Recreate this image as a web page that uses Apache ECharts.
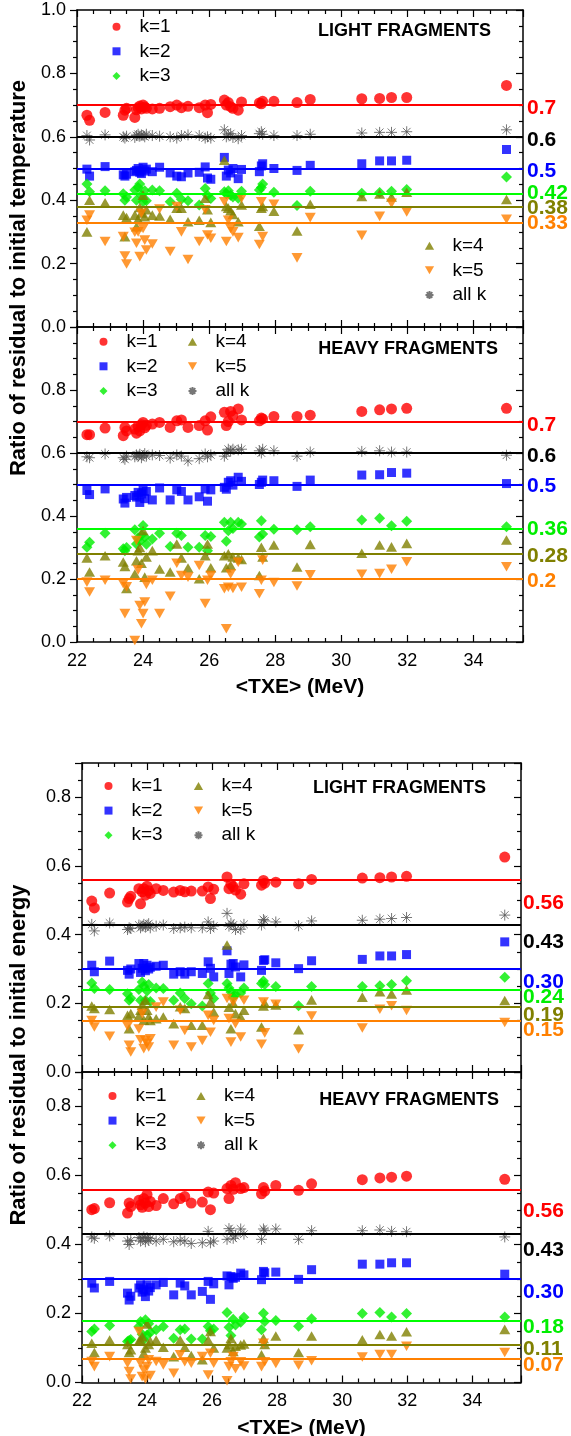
<!DOCTYPE html>
<html><head><meta charset="utf-8">
<script src="https://cdn.jsdelivr.net/npm/echarts/dist/echarts.min.js"></script>
<style>html,body{margin:0;padding:0;background:#fff}#c{width:571px;height:1436px}</style>
</head><body><div id="c"></div>
<script>
// ---- data ----
const TXE = [22.30,22.38,22.85,23.40,23.45,23.50,23.75,23.80,23.85,23.90,23.95,24.00,24.05,24.10,24.28,24.50,24.82,25.02,25.16,25.36,25.70,25.88,25.95,26.05,26.46,26.52,26.58,26.65,26.72,26.88,26.98,27.52,27.58,27.62,27.96,28.66,29.06,30.62,31.16,31.52,31.98,35.00];
const X_TICK_LABELS = ['22','24','26','28','30','32','34'];
const SERIES_NAMES = ['k=1','k=2','k=3','k=4','k=5','all k'];

// Light fragments, temperature
const LT_K1 = [0.668,0.652,0.677,0.668,0.684,0.690,0.661,0.685,0.692,0.697,0.688,0.700,0.694,0.690,0.688,0.690,0.695,0.700,0.692,0.696,0.692,0.700,0.676,0.702,0.716,0.700,0.708,0.695,0.690,0.684,0.710,0.707,0.704,0.712,0.712,0.708,0.718,0.720,0.721,0.724,0.724,0.762];
const LT_K2 = [0.498,0.476,0.506,0.480,0.476,0.482,0.490,0.494,0.500,0.488,0.484,0.504,0.492,0.498,0.490,0.504,0.486,0.476,0.474,0.486,0.488,0.505,0.470,0.466,0.535,0.476,0.495,0.486,0.500,0.468,0.497,0.490,0.508,0.515,0.500,0.494,0.510,0.515,0.524,0.524,0.526,0.560];
const LT_K3 = [0.451,0.427,0.430,0.420,0.400,0.410,0.432,0.400,0.440,0.451,0.416,0.395,0.430,0.398,0.432,0.430,0.395,0.422,0.403,0.398,0.385,0.437,0.416,0.405,0.427,0.420,0.430,0.416,0.410,0.406,0.428,0.432,0.440,0.451,0.425,0.383,0.428,0.422,0.424,0.428,0.434,0.473];
const LT_K4 = [0.300,0.400,0.392,0.353,0.285,0.345,0.353,0.316,0.340,0.377,0.360,0.416,0.348,0.370,0.353,0.350,0.340,0.375,0.375,0.332,0.337,0.406,0.370,0.330,0.526,0.380,0.375,0.367,0.355,0.332,0.385,0.318,0.375,0.380,0.365,0.303,0.387,0.412,0.420,0.410,0.425,0.402];
const LT_K5 = [0.337,0.353,0.270,0.285,0.224,0.199,0.299,0.264,0.300,0.222,0.359,0.311,0.274,0.243,0.262,0.372,0.238,0.380,0.300,0.213,0.270,0.370,0.290,0.280,0.395,0.270,0.337,0.311,0.300,0.282,0.406,0.260,0.395,0.285,0.387,0.218,0.345,0.289,0.349,0.390,0.363,0.340];
const LT_ALL = [0.604,0.590,0.606,0.600,0.596,0.602,0.598,0.604,0.608,0.602,0.606,0.604,0.600,0.608,0.604,0.602,0.600,0.596,0.604,0.606,0.604,0.596,0.600,0.596,0.622,0.600,0.606,0.610,0.598,0.594,0.604,0.610,0.616,0.608,0.604,0.604,0.608,0.612,0.614,0.614,0.616,0.622];
const LT_MEANS = [0.7,0.5,0.42,0.38,0.33,0.6];
const LT_MEAN_TEXT = ['0.7','0.5','0.42','0.38','0.33','0.6'];

// Heavy fragments, temperature
const HT_K1 = [0.658,0.658,0.679,0.655,0.681,0.670,0.676,0.663,0.685,0.670,0.690,0.697,0.680,0.688,0.692,0.697,0.681,0.702,0.705,0.681,0.687,0.702,0.673,0.715,0.729,0.687,0.700,0.732,0.718,0.740,0.705,0.702,0.711,0.708,0.716,0.716,0.720,0.732,0.737,0.740,0.742,0.742];
const HT_K2 = [0.481,0.468,0.486,0.454,0.441,0.459,0.465,0.460,0.475,0.443,0.470,0.481,0.455,0.478,0.451,0.489,0.451,0.483,0.478,0.451,0.461,0.486,0.447,0.483,0.491,0.485,0.507,0.512,0.498,0.523,0.510,0.500,0.507,0.514,0.512,0.494,0.514,0.530,0.531,0.538,0.536,0.503];
const HT_K3 = [0.301,0.317,0.345,0.296,0.290,0.300,0.356,0.311,0.330,0.320,0.340,0.370,0.333,0.310,0.327,0.345,0.303,0.345,0.338,0.301,0.301,0.338,0.290,0.335,0.380,0.320,0.353,0.380,0.360,0.380,0.375,0.333,0.385,0.343,0.358,0.356,0.366,0.387,0.393,0.369,0.383,0.366];
const HT_K4 = [0.267,0.222,0.274,0.254,0.240,0.170,0.216,0.258,0.290,0.300,0.250,0.354,0.206,0.270,0.290,0.232,0.222,0.311,0.267,0.235,0.201,0.274,0.311,0.236,0.274,0.236,0.280,0.243,0.270,0.267,0.262,0.211,0.301,0.270,0.308,0.238,0.310,0.282,0.308,0.302,0.313,0.324];
const HT_K5 = [0.190,0.159,0.196,0.185,0.090,0.175,0.005,0.322,0.229,0.116,0.058,0.090,0.127,0.183,0.196,0.090,0.145,0.250,0.211,0.206,0.243,0.122,0.196,0.211,0.169,0.042,0.174,0.216,0.170,0.253,0.174,0.153,0.196,0.260,0.189,0.178,0.213,0.215,0.217,0.231,0.255,0.239];
const HT_ALL = [0.588,0.585,0.597,0.585,0.580,0.590,0.588,0.594,0.590,0.596,0.585,0.592,0.598,0.590,0.594,0.592,0.584,0.594,0.590,0.575,0.582,0.597,0.588,0.594,0.590,0.600,0.612,0.606,0.612,0.610,0.612,0.607,0.600,0.612,0.607,0.590,0.603,0.605,0.607,0.603,0.603,0.593];
const HT_MEANS = [0.7,0.5,0.36,0.28,0.2,0.6];
const HT_MEAN_TEXT = ['0.7','0.5','0.36','0.28','0.2','0.6'];

// Light fragments, energy
const LE_K1 = [0.498,0.478,0.521,0.495,0.505,0.512,0.534,0.490,0.525,0.534,0.515,0.541,0.528,0.520,0.534,0.529,0.524,0.529,0.525,0.527,0.527,0.539,0.505,0.532,0.568,0.534,0.547,0.540,0.530,0.518,0.548,0.544,0.558,0.550,0.553,0.548,0.561,0.565,0.566,0.568,0.570,0.626];
const LE_K2 = [0.311,0.292,0.323,0.296,0.285,0.300,0.316,0.290,0.302,0.316,0.295,0.311,0.300,0.305,0.308,0.311,0.285,0.292,0.285,0.292,0.287,0.321,0.302,0.277,0.353,0.287,0.314,0.316,0.306,0.277,0.312,0.296,0.325,0.327,0.318,0.301,0.324,0.328,0.338,0.338,0.342,0.379];
const LE_K3 = [0.259,0.243,0.240,0.228,0.209,0.215,0.240,0.209,0.262,0.250,0.209,0.236,0.255,0.205,0.245,0.243,0.209,0.230,0.214,0.199,0.192,0.258,0.230,0.214,0.258,0.245,0.233,0.219,0.225,0.230,0.245,0.258,0.265,0.255,0.249,0.193,0.249,0.249,0.251,0.255,0.266,0.276];
const LE_K4 = [0.192,0.185,0.182,0.165,0.126,0.170,0.163,0.180,0.195,0.151,0.209,0.180,0.160,0.150,0.155,0.160,0.141,0.190,0.185,0.136,0.136,0.226,0.204,0.175,0.370,0.189,0.126,0.200,0.170,0.160,0.180,0.131,0.192,0.200,0.195,0.123,0.210,0.218,0.234,0.227,0.239,0.208];
const LE_K5 = [0.150,0.131,0.104,0.133,0.078,0.058,0.125,0.094,0.170,0.068,0.092,0.084,0.073,0.097,0.189,0.204,0.078,0.180,0.121,0.073,0.092,0.165,0.116,0.150,0.214,0.156,0.087,0.204,0.141,0.102,0.209,0.081,0.204,0.114,0.197,0.067,0.163,0.128,0.183,0.193,0.179,0.144];
const LE_ALL = [0.430,0.411,0.434,0.415,0.420,0.418,0.428,0.420,0.425,0.430,0.422,0.428,0.432,0.420,0.425,0.428,0.418,0.420,0.422,0.420,0.420,0.437,0.418,0.425,0.462,0.425,0.433,0.428,0.415,0.416,0.430,0.428,0.444,0.440,0.437,0.426,0.440,0.442,0.445,0.447,0.450,0.457];
const LE_MEANS = [0.56,0.30,0.24,0.19,0.15,0.43];
const LE_MEAN_TEXT = ['0.56','0.30','0.24','0.19','0.15','0.43'];

// Heavy fragments, energy
const HE_K1 = [0.501,0.504,0.521,0.491,0.520,0.510,0.528,0.515,0.508,0.533,0.520,0.545,0.510,0.525,0.513,0.533,0.518,0.533,0.539,0.520,0.523,0.552,0.501,0.549,0.562,0.533,0.571,0.560,0.579,0.562,0.565,0.547,0.565,0.555,0.571,0.557,0.576,0.588,0.593,0.595,0.598,0.589];
const HE_K2 = [0.288,0.274,0.293,0.259,0.239,0.250,0.274,0.283,0.262,0.269,0.249,0.283,0.265,0.275,0.283,0.290,0.254,0.288,0.280,0.254,0.264,0.293,0.241,0.286,0.309,0.283,0.307,0.302,0.305,0.317,0.312,0.298,0.322,0.318,0.320,0.299,0.327,0.343,0.343,0.347,0.347,0.314];
const HE_K3 = [0.148,0.155,0.165,0.119,0.122,0.125,0.162,0.177,0.140,0.124,0.182,0.138,0.170,0.145,0.153,0.162,0.128,0.153,0.155,0.126,0.126,0.162,0.150,0.155,0.203,0.160,0.136,0.183,0.167,0.175,0.189,0.153,0.201,0.177,0.180,0.163,0.185,0.200,0.203,0.190,0.200,0.190];
const HE_K4 = [0.114,0.087,0.123,0.110,0.087,0.095,0.120,0.123,0.133,0.085,0.100,0.170,0.110,0.120,0.123,0.102,0.075,0.123,0.102,0.078,0.066,0.123,0.148,0.100,0.100,0.110,0.128,0.090,0.105,0.109,0.112,0.080,0.128,0.110,0.135,0.087,0.135,0.124,0.139,0.135,0.147,0.154];
const HE_K5 = [0.061,0.046,0.075,0.056,0.032,0.010,0.148,0.056,0.017,0.036,0.010,0.046,0.066,0.020,0.061,0.051,0.027,0.080,0.060,0.056,0.075,0.022,0.085,0.056,0.005,0.046,0.060,0.075,0.040,0.060,0.048,0.046,0.114,0.060,0.055,0.050,0.063,0.074,0.081,0.081,0.105,0.087];
const HE_ALL = [0.422,0.418,0.425,0.410,0.400,0.412,0.420,0.410,0.418,0.422,0.408,0.420,0.412,0.418,0.410,0.415,0.408,0.412,0.410,0.403,0.405,0.438,0.405,0.410,0.415,0.446,0.440,0.418,0.425,0.445,0.430,0.415,0.445,0.440,0.445,0.415,0.440,0.440,0.442,0.438,0.437,0.422];
const HE_MEANS = [0.56,0.30,0.18,0.11,0.07,0.43];
const HE_MEAN_TEXT = ['0.56','0.30','0.18','0.11','0.07','0.43'];

// ---- styles ----
const FONT = '"Liberation Sans", Arial, sans-serif';
const MARK_COLORS = ['#ff0000','#0000ff','#00ee00','#808000','#ff8000','#555555'];
const LINE_COLORS = ['#ff0000','#0000ff','#00ff00','#808000','#ff8000','#000000'];
const LABEL_COLORS = ['#ff0000','#0000ff','#00ee00','#808000','#ff8000','#000000'];
const STAR = 'path://M0,5L10,5M5,0L5,10M1.5,1.5L8.5,8.5M1.5,8.5L8.5,1.5';
const SQUARE = 'path://M0,0L10,0L10,10L0,10Z';
const DIAMOND = 'path://M5,0L10,5L5,10L0,5Z';
const UP_TRI = 'path://M5,0L10,8.7L0,8.7Z';
const DOWN_TRI = 'path://M0,0L10,0L5,8.7Z';
const SYMBOLS = ['circle',SQUARE,DIAMOND,UP_TRI,DOWN_TRI,STAR];
const SIZES = [11,9,11,11,11,11];

const PANELS = [
  {grid:{left:77,top:10,width:446,height:317}, ymax:1.0, data:[LT_K1,LT_K2,LT_K3,LT_K4,LT_K5,LT_ALL], means:LT_MEANS, text:LT_MEAN_TEXT,
   dy:[3,3,-1,1.5,0.6,3], dx:4, showX:false, title:'LIGHT FRAGMENTS', tx:491, ty:31, showMax:true,
   legends:[[['k=1','k=2','k=3'],112.5,17.2],[['k=4','k=5','all k'],424.5,236.2]]},
  {grid:{left:77,top:327,width:446,height:315}, ymax:1.0, data:[HT_K1,HT_K2,HT_K3,HT_K4,HT_K5,HT_ALL], means:HT_MEANS, text:HT_MEAN_TEXT,
   dy:[4,2,1,2,2,3], dx:4, showX:true, title:'HEAVY FRAGMENTS', tx:498, ty:349, showMax:false,
   legends:[[['k=1','k=2','k=3'],99.5,332.2],[['k=4','k=5','all k'],187.5,332.2]]},
  {grid:{left:82,top:763,width:439,height:309}, ymax:0.9, data:[LE_K1,LE_K2,LE_K3,LE_K4,LE_K5,LE_ALL], means:LE_MEANS, text:LE_MEAN_TEXT,
   dy:[23,13,8,8,10,18], dx:2, showX:false, title:'LIGHT FRAGMENTS', tx:486, ty:788, showMax:false,
   legends:[[['k=1','k=2','k=3'],104.5,776.5],[['k=4','k=5','all k'],193.5,776.5]]},
  {grid:{left:82,top:1072,width:439,height:310.5}, ymax:0.9, data:[HE_K1,HE_K2,HE_K3,HE_K4,HE_K5,HE_ALL], means:HE_MEANS, text:HE_MEAN_TEXT,
   dy:[22,13,7,5,7,16], dx:2, showX:true, title:'HEAVY FRAGMENTS', tx:499, ty:1100, showMax:false,
   legends:[[['k=1','k=2','k=3'],108.5,1086.5],[['k=4','k=5','all k'],196,1086.5]]}
];

const chart = echarts.init(document.getElementById('c'), null, {renderer:'canvas'});
const grids=[], xAxes=[], yAxes=[], series=[], legends=[];
const tickLine = {color:'#000', width:1.2};
const axisLine = {show:true, onZero:false, lineStyle:{color:'#000', width:1.5}};

PANELS.forEach((p,g)=>{
  grids.push(Object.assign({containLabel:false, outerBoundsMode:'none'}, p.grid));
  const xBase = {type:'value', gridIndex:g, min:22, max:35.5, interval:2, splitLine:{show:false}, axisLine:axisLine,
    axisTick:{show:true, inside:true, length:7, lineStyle:tickLine},
    minorTick:{show:true, splitNumber:4, length:4, lineStyle:tickLine}};
  xAxes.push(Object.assign({}, xBase, {position:'bottom',
    axisLabel:{show:p.showX, color:'#000', fontSize:18, fontFamily:FONT, margin:10,
      formatter:v=>{const s=String(Math.round(v)); return (Math.abs(v-Math.round(v))<1e-6 && X_TICK_LABELS.indexOf(s)>=0)?s:'';}},
    name:p.showX?'<TXE> (MeV)':'', nameLocation:'middle', nameGap:35,
    nameTextStyle:{color:'#000', fontSize:21, fontWeight:'bold', fontFamily:FONT}}));
  xAxes.push(Object.assign({}, xBase, {position:'top', axisLabel:{show:false}}));
  const yBase = {type:'value', gridIndex:g, min:0, max:p.ymax, interval:0.2, splitLine:{show:false}, axisLine:axisLine,
    minorTick:{show:true, splitNumber:4, length:4, lineStyle:tickLine}};
  yAxes.push(Object.assign({}, yBase, {position:'left', axisTick:{show:true, inside:false, length:7, lineStyle:tickLine},
    axisLabel:{show:true, color:'#000', fontSize:18, fontFamily:FONT, margin:11, showMaxLabel:p.showMax, showMinLabel:true,
      formatter:v=>{const r=Math.round(v*10); return (r%2===0)?v.toFixed(1):'';}}}));
  yAxes.push(Object.assign({}, yBase, {position:'right', axisTick:{show:true, inside:true, length:7, lineStyle:tickLine}, axisLabel:{show:false}}));
  p.data.forEach((ys,s)=>{
    const star = s===5;
    series.push({type:'scatter', name:SERIES_NAMES[s], xAxisIndex:2*g, yAxisIndex:2*g,
      data:TXE.map((x,i)=>[x, ys[i]]), symbol:SYMBOLS[s], symbolSize:SIZES[s], symbolKeepAspect:true,
      itemStyle: star ? {color:'rgba(0,0,0,0)', borderColor:MARK_COLORS[s], borderWidth:1} : {color:MARK_COLORS[s]},
      emphasis:{disabled:true}, animation:false, silent:true,
      markLine:{silent:true, symbol:'none', animation:false, label:{show:false}, emphasis:{disabled:true},
        lineStyle:{color:LINE_COLORS[s], width:2, type:'solid'}, data:[{yAxis:p.means[s]}]}});
  });
  p.legends.forEach(([names,left,top])=>{
    legends.push({show:true, orient:'vertical', left:left, top:top, padding:0, itemGap:5.6, itemWidth:36, itemHeight:8,
      symbolKeepAspect:true, selectedMode:false, data:names, textStyle:{color:'#000', fontSize:19, fontFamily:FONT}});
  });
});

chart.setOption({animation:false, backgroundColor:'#fff', grid:grids, xAxis:xAxes, yAxis:yAxes, series:series, legend:legends});

const gfx = [];
PANELS.forEach((p,g)=>{
  p.means.forEach((m,s)=>{
    const pt = chart.convertToPixel({seriesIndex:6*g}, [35.5, m]);
    gfx.push({type:'text', x:pt[0]+p.dx, y:pt[1]+p.dy[s], silent:true,
      style:{text:p.text[s], fill:LABEL_COLORS[s], font:'bold 21px '+FONT, textAlign:'left', textVerticalAlign:'middle', verticalAlign:'middle'}});
  });
  gfx.push({type:'text', x:p.tx, y:p.ty, silent:true,
    style:{text:p.title, fill:'#000', font:'bold 18px '+FONT, textAlign:'right', textVerticalAlign:'middle', verticalAlign:'middle'}});
});
gfx.push({type:'text', x:19, y:278, rotation:Math.PI/2, silent:true,
  style:{text:'Ratio of residual to initial temperature', fill:'#000', font:'bold 22px '+FONT, textAlign:'center', textVerticalAlign:'middle', verticalAlign:'middle'}});
gfx.push({type:'text', x:19, y:1055, rotation:Math.PI/2, silent:true,
  style:{text:'Ratio of residual to initial energy', fill:'#000', font:'bold 22px '+FONT, textAlign:'center', textVerticalAlign:'middle', verticalAlign:'middle'}});
chart.setOption({graphic:gfx});
</script></body></html>
